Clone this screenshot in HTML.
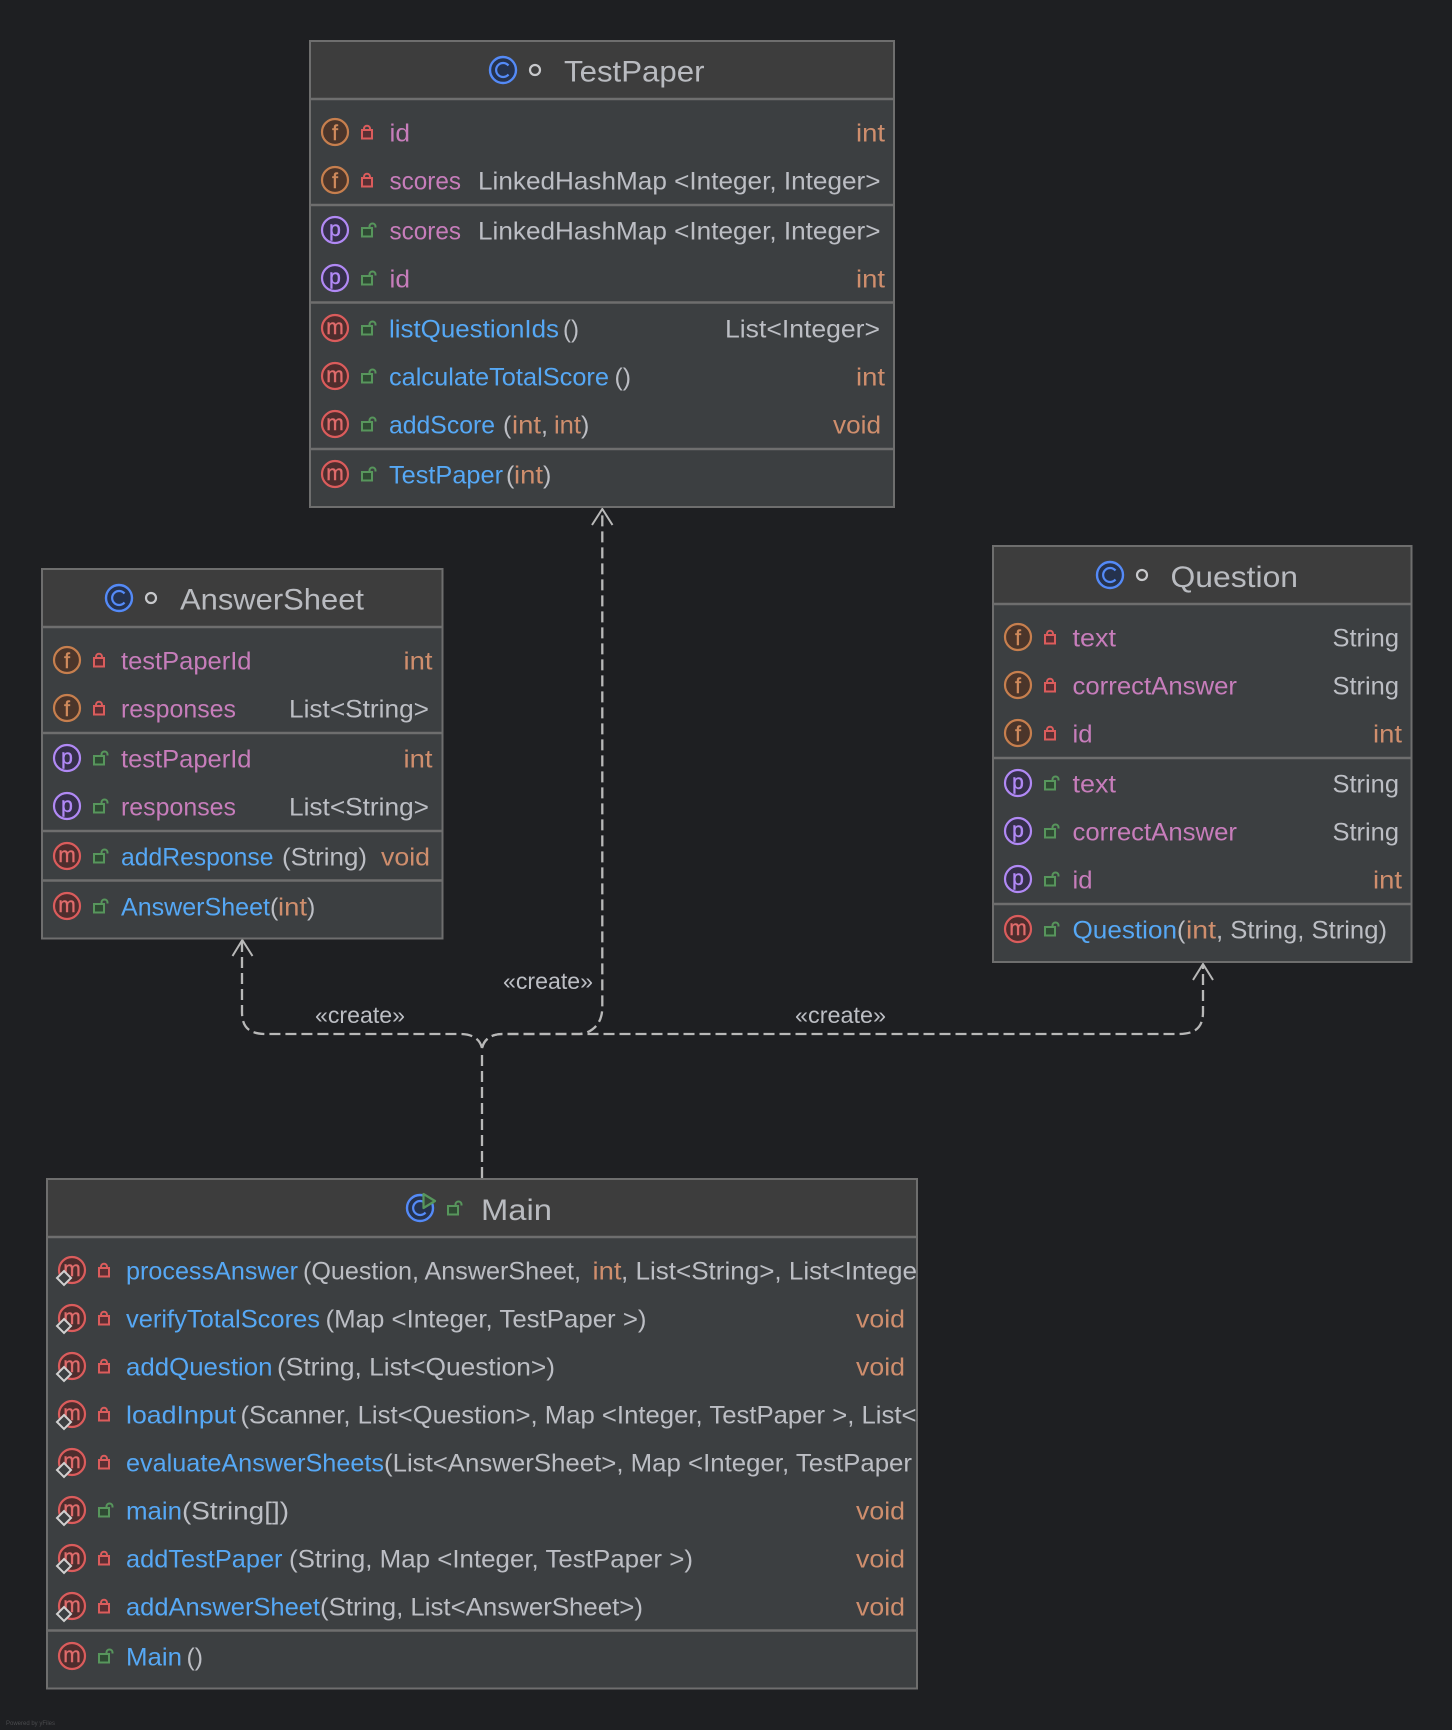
<!DOCTYPE html>
<html><head><meta charset="utf-8"><title>Class diagram</title>
<style>
html,body{margin:0;padding:0;background:#1e1f22}
svg{display:block}
text{font-family:"Liberation Sans",sans-serif;font-size:25px;white-space:pre}
.f{fill:#c77dbb}.m{fill:#56a8f5}.t{fill:#bcbec4}.n{fill:#cf8e6d}
.h{font-size:30px;fill:#b9bbc0}
.l{font-size:21px;text-anchor:middle;stroke-width:.4}
.lf{fill:#d08a5c;stroke:#d08a5c}.lp{fill:#b189f5;stroke:#b189f5}.lm{fill:#e06c6c;stroke:#e06c6c}
.c{font-size:23px;fill:#bcbec4}
.box{fill:#3c3f41;stroke:#6e6e6e;stroke-width:2}
.hd{fill:#3d3d3d}
.sep{stroke:#6e6e6e;stroke-width:2.5}
.dash{fill:none;stroke:#b8b8b8;stroke-width:2.3;stroke-dasharray:11 5}
.arr{fill:none;stroke:#b8b8b8;stroke-width:2}
</style></head><body>
<svg xmlns="http://www.w3.org/2000/svg" width="1452" height="1730" viewBox="0 0 1452 1730">
<defs>
<g id="cf"><circle r="13" fill="#4b352a" stroke="#c77f4e" stroke-width="2.2"/></g>
<g id="cp"><circle r="13" fill="#352f4a" stroke="#b189f5" stroke-width="2.2"/></g>
<g id="cm"><circle r="13" fill="#4e2d2d" stroke="#db5c5c" stroke-width="2.2"/></g>
<g id="cc"><circle r="13" fill="#25324d" stroke="#548af7" stroke-width="2.4"/><path d="M5.5 -4.5A7 7 0 1 0 5.5 4.5" fill="none" stroke="#548af7" stroke-width="2.2"/></g>
<g id="lr"><rect x="1" y="-2" width="10" height="8.5" fill="#5a2f33" stroke="#db5c5c" stroke-width="2"/><path d="M3 -2V-3.3a3 3 0 0 1 6 0V-2" fill="none" stroke="#db5c5c" stroke-width="2"/></g>
<g id="lg"><rect x="1" y="-2" width="10" height="8.5" fill="#2f4a33" stroke="#57965c" stroke-width="2"/><path d="M8.5 -2V-3.5a3 3 0 0 1 6 0V-2.5" fill="none" stroke="#57965c" stroke-width="2"/></g>
<g id="dm"><path d="M0 -7L7 0L0 7L-7 0Z" fill="#3c3f41" stroke="#d0d0d0" stroke-width="2"/></g>
</defs>
<rect width="1452" height="1730" fill="#1e1f22"/>

<!-- connectors -->
<path class="dash" d="M482 1178V1052"/>
<path class="dash" d="M482 1048C480 1040 474 1034 460 1034H266C250 1034 242 1028 242 1012V942"/>
<path class="dash" d="M482 1048C484 1040 490 1034 503 1034H1178C1195 1034 1203 1028 1203 1012V965"/>
<path class="dash" d="M482 1048C484 1040 490 1034 503 1034H580L587 1032.5C597 1028 602 1020 602.3 1008V510"/>
<path class="arr" d="M232.5 956L242.3 940L252.5 956"/>
<path class="arr" d="M592 525L602.3 509L612.5 525"/>
<path class="arr" d="M1193 980L1203 964L1213 980"/>
<text class="c" x="315" y="1023" textLength="90" lengthAdjust="spacingAndGlyphs">«create»</text>
<text class="c" x="503" y="989" textLength="90" lengthAdjust="spacingAndGlyphs">«create»</text>
<text class="c" x="795" y="1023" textLength="91" lengthAdjust="spacingAndGlyphs">«create»</text>

<!-- TestPaper -->
<rect class="box" x="310" y="41" width="584" height="466"/>
<rect class="hd" x="311" y="42" width="582" height="57"/>
<line class="sep" x1="311" y1="99" x2="893" y2="99"/>
<line class="sep" x1="311" y1="205" x2="893" y2="205"/>
<line class="sep" x1="311" y1="302.5" x2="893" y2="302.5"/>
<line class="sep" x1="311" y1="449" x2="893" y2="449"/>
<use href="#cc" x="503" y="70"/>
<circle cx="535" cy="70" r="5" fill="none" stroke="#c8c9cc" stroke-width="2.2"/>
<text class="h" x="564" y="81.5" textLength="140.5" lengthAdjust="spacingAndGlyphs">TestPaper</text>

<use href="#cf" x="335" y="132"/><text class="l lf" x="335" y="140">f</text><use href="#lr" x="361" y="132"/>
<text class="f" x="389.5" y="141.5" textLength="20.5" lengthAdjust="spacingAndGlyphs">id</text>
<text class="n" x="856" y="141.5" textLength="29" lengthAdjust="spacingAndGlyphs">int</text>

<use href="#cf" x="335" y="180"/><text class="l lf" x="335" y="188">f</text><use href="#lr" x="361" y="180"/>
<text class="f" x="389.5" y="189.5" textLength="71.5" lengthAdjust="spacingAndGlyphs">scores</text>
<text class="t" x="478" y="189.5" textLength="402.5" lengthAdjust="spacingAndGlyphs">LinkedHashMap &lt;Integer, Integer&gt;</text>

<use href="#cp" x="335" y="230"/><text class="l lp" x="335" y="236">p</text><use href="#lg" x="361" y="230"/>
<text class="f" x="389.5" y="239.5" textLength="71.5" lengthAdjust="spacingAndGlyphs">scores</text>
<text class="t" x="478" y="239.5" textLength="402.5" lengthAdjust="spacingAndGlyphs">LinkedHashMap &lt;Integer, Integer&gt;</text>

<use href="#cp" x="335" y="278"/><text class="l lp" x="335" y="284">p</text><use href="#lg" x="361" y="278"/>
<text class="f" x="389.5" y="287.5" textLength="20.5" lengthAdjust="spacingAndGlyphs">id</text>
<text class="n" x="856" y="287.5" textLength="29" lengthAdjust="spacingAndGlyphs">int</text>

<use href="#cm" x="335" y="328"/><text class="l lm" x="335" y="334">m</text><use href="#lg" x="361" y="328"/>
<text class="m" x="389" y="337.5" textLength="170" lengthAdjust="spacingAndGlyphs">listQuestionIds</text>
<text class="t" x="563" y="337.5" textLength="16" lengthAdjust="spacingAndGlyphs">()</text>
<text class="t" x="725" y="337.5" textLength="155" lengthAdjust="spacingAndGlyphs">List&lt;Integer&gt;</text>

<use href="#cm" x="335" y="376"/><text class="l lm" x="335" y="382">m</text><use href="#lg" x="361" y="376"/>
<text class="m" x="389" y="385.5" textLength="220" lengthAdjust="spacingAndGlyphs">calculateTotalScore</text>
<text class="t" x="614.5" y="385.5" textLength="16.5" lengthAdjust="spacingAndGlyphs">()</text>
<text class="n" x="856" y="385.5" textLength="29" lengthAdjust="spacingAndGlyphs">int</text>

<use href="#cm" x="335" y="424"/><text class="l lm" x="335" y="430">m</text><use href="#lg" x="361" y="424"/>
<text class="m" x="389" y="433.5" textLength="106" lengthAdjust="spacingAndGlyphs">addScore</text>
<text class="t" x="503" y="433.5">(</text>
<text class="n" x="512" y="433.5" textLength="29" lengthAdjust="spacingAndGlyphs">int</text>
<text class="t" x="541" y="433.5">,</text>
<text class="n" x="554" y="433.5" textLength="27" lengthAdjust="spacingAndGlyphs">int</text>
<text class="t" x="581" y="433.5">)</text>
<text class="n" x="833" y="433.5" textLength="48" lengthAdjust="spacingAndGlyphs">void</text>

<use href="#cm" x="335" y="474"/><text class="l lm" x="335" y="480">m</text><use href="#lg" x="361" y="474"/>
<text class="m" x="389" y="483.5" textLength="114" lengthAdjust="spacingAndGlyphs">TestPaper</text>
<text class="t" x="506" y="483.5">(</text>
<text class="n" x="514" y="483.5" textLength="29" lengthAdjust="spacingAndGlyphs">int</text>
<text class="t" x="543" y="483.5">)</text>

<!-- AnswerSheet -->
<rect class="box" x="42" y="569" width="400.5" height="369.5"/>
<rect class="hd" x="43" y="570" width="398.5" height="57"/>
<line class="sep" x1="43" y1="627" x2="441.5" y2="627"/>
<line class="sep" x1="43" y1="733" x2="441.5" y2="733"/>
<line class="sep" x1="43" y1="831" x2="441.5" y2="831"/>
<line class="sep" x1="43" y1="880.5" x2="441.5" y2="880.5"/>
<use href="#cc" x="119" y="598"/>
<circle cx="151" cy="598" r="5" fill="none" stroke="#c8c9cc" stroke-width="2.2"/>
<text class="h" x="180" y="609.5" textLength="184" lengthAdjust="spacingAndGlyphs">AnswerSheet</text>

<use href="#cf" x="67" y="660"/><text class="l lf" x="67" y="668">f</text><use href="#lr" x="93" y="660"/>
<text class="f" x="121" y="669.5" textLength="130.5" lengthAdjust="spacingAndGlyphs">testPaperId</text>
<text class="n" x="403.5" y="669.5" textLength="29" lengthAdjust="spacingAndGlyphs">int</text>

<use href="#cf" x="67" y="708"/><text class="l lf" x="67" y="716">f</text><use href="#lr" x="93" y="708"/>
<text class="f" x="121" y="717.5" textLength="115" lengthAdjust="spacingAndGlyphs">responses</text>
<text class="t" x="289" y="717.5" textLength="140" lengthAdjust="spacingAndGlyphs">List&lt;String&gt;</text>

<use href="#cp" x="67" y="758"/><text class="l lp" x="67" y="764">p</text><use href="#lg" x="93" y="758"/>
<text class="f" x="121" y="767.5" textLength="130.5" lengthAdjust="spacingAndGlyphs">testPaperId</text>
<text class="n" x="403.5" y="767.5" textLength="29" lengthAdjust="spacingAndGlyphs">int</text>

<use href="#cp" x="67" y="806"/><text class="l lp" x="67" y="812">p</text><use href="#lg" x="93" y="806"/>
<text class="f" x="121" y="815.5" textLength="115" lengthAdjust="spacingAndGlyphs">responses</text>
<text class="t" x="289" y="815.5" textLength="140" lengthAdjust="spacingAndGlyphs">List&lt;String&gt;</text>

<use href="#cm" x="67" y="856"/><text class="l lm" x="67" y="862">m</text><use href="#lg" x="93" y="856"/>
<text class="m" x="121" y="865.5" textLength="152.5" lengthAdjust="spacingAndGlyphs">addResponse</text>
<text class="t" x="282" y="865.5" textLength="85" lengthAdjust="spacingAndGlyphs">(String)</text>
<text class="n" x="381" y="865.5" textLength="49" lengthAdjust="spacingAndGlyphs">void</text>

<use href="#cm" x="67" y="906"/><text class="l lm" x="67" y="912">m</text><use href="#lg" x="93" y="906"/>
<text class="m" x="121" y="915.5" textLength="149" lengthAdjust="spacingAndGlyphs">AnswerSheet</text>
<text class="t" x="270" y="915.5">(</text>
<text class="n" x="278" y="915.5" textLength="29" lengthAdjust="spacingAndGlyphs">int</text>
<text class="t" x="307" y="915.5">)</text>

<!-- Question -->
<rect class="box" x="993" y="546" width="418.5" height="416"/>
<rect class="hd" x="994" y="547" width="416.5" height="57"/>
<line class="sep" x1="994" y1="604" x2="1410.5" y2="604"/>
<line class="sep" x1="994" y1="758" x2="1410.5" y2="758"/>
<line class="sep" x1="994" y1="904" x2="1410.5" y2="904"/>
<use href="#cc" x="1110" y="575"/>
<circle cx="1142" cy="575" r="5" fill="none" stroke="#c8c9cc" stroke-width="2.2"/>
<text class="h" x="1170.5" y="587" textLength="127.5" lengthAdjust="spacingAndGlyphs">Question</text>

<use href="#cf" x="1018" y="637"/><text class="l lf" x="1018" y="645">f</text><use href="#lr" x="1044" y="637"/>
<text class="f" x="1072.5" y="646.5" textLength="43.5" lengthAdjust="spacingAndGlyphs">text</text>
<text class="t" x="1332.5" y="646.5" textLength="66.5" lengthAdjust="spacingAndGlyphs">String</text>

<use href="#cf" x="1018" y="685"/><text class="l lf" x="1018" y="693">f</text><use href="#lr" x="1044" y="685"/>
<text class="f" x="1072.5" y="694.5" textLength="164.5" lengthAdjust="spacingAndGlyphs">correctAnswer</text>
<text class="t" x="1332.5" y="694.5" textLength="66.5" lengthAdjust="spacingAndGlyphs">String</text>

<use href="#cf" x="1018" y="733"/><text class="l lf" x="1018" y="741">f</text><use href="#lr" x="1044" y="733"/>
<text class="f" x="1072.5" y="742.5" textLength="20" lengthAdjust="spacingAndGlyphs">id</text>
<text class="n" x="1373" y="742.5" textLength="29" lengthAdjust="spacingAndGlyphs">int</text>

<use href="#cp" x="1018" y="783"/><text class="l lp" x="1018" y="789">p</text><use href="#lg" x="1044" y="783"/>
<text class="f" x="1072.5" y="792.5" textLength="43.5" lengthAdjust="spacingAndGlyphs">text</text>
<text class="t" x="1332.5" y="792.5" textLength="66.5" lengthAdjust="spacingAndGlyphs">String</text>

<use href="#cp" x="1018" y="831"/><text class="l lp" x="1018" y="837">p</text><use href="#lg" x="1044" y="831"/>
<text class="f" x="1072.5" y="840.5" textLength="164.5" lengthAdjust="spacingAndGlyphs">correctAnswer</text>
<text class="t" x="1332.5" y="840.5" textLength="66.5" lengthAdjust="spacingAndGlyphs">String</text>

<use href="#cp" x="1018" y="879"/><text class="l lp" x="1018" y="885">p</text><use href="#lg" x="1044" y="879"/>
<text class="f" x="1072.5" y="888.5" textLength="20" lengthAdjust="spacingAndGlyphs">id</text>
<text class="n" x="1373" y="888.5" textLength="29" lengthAdjust="spacingAndGlyphs">int</text>

<use href="#cm" x="1018" y="929"/><text class="l lm" x="1018" y="935">m</text><use href="#lg" x="1044" y="929"/>
<text class="m" x="1072.5" y="938.5" textLength="104.5" lengthAdjust="spacingAndGlyphs">Question</text>
<text class="t" x="1177" y="938.5">(</text>
<text class="n" x="1186" y="938.5" textLength="30" lengthAdjust="spacingAndGlyphs">int</text>
<text class="t" x="1216" y="938.5" textLength="171" lengthAdjust="spacingAndGlyphs">, String, String)</text>

<!-- Main -->
<rect class="box" x="47" y="1179" width="870" height="509.5"/>
<rect class="hd" x="48" y="1180" width="868" height="57"/>
<line class="sep" x1="48" y1="1237" x2="916" y2="1237"/>
<line class="sep" x1="48" y1="1630.5" x2="916" y2="1630.5"/>
<use href="#cc" x="420" y="1208"/>
<path d="M423.5 1194L435 1201L423.5 1208Z" fill="#35463a" stroke="#57965c" stroke-width="2.2" stroke-linejoin="round"/>
<use href="#lg" x="447" y="1208"/>
<text class="h" x="481" y="1220" textLength="71" lengthAdjust="spacingAndGlyphs">Main</text>

<use href="#cm" x="72" y="1270"/><text class="l lm" x="72" y="1276">m</text><use href="#dm" x="64" y="1278"/><use href="#lr" x="98" y="1270"/>
<text class="m" x="126" y="1279.5" textLength="172" lengthAdjust="spacingAndGlyphs">processAnswer</text>
<text class="t" x="303" y="1279.5" textLength="278" lengthAdjust="spacingAndGlyphs">(Question, AnswerSheet,</text>
<text class="n" x="592.5" y="1279.5" textLength="29" lengthAdjust="spacingAndGlyphs">int</text>
<text class="t" x="621" y="1279.5" textLength="296" lengthAdjust="spacingAndGlyphs">, List&lt;String&gt;, List&lt;Intege</text>

<use href="#cm" x="72" y="1318"/><text class="l lm" x="72" y="1324">m</text><use href="#dm" x="64" y="1326"/><use href="#lr" x="98" y="1318"/>
<text class="m" x="126" y="1327.5" textLength="194" lengthAdjust="spacingAndGlyphs">verifyTotalScores</text>
<text class="t" x="325.5" y="1327.5" textLength="321" lengthAdjust="spacingAndGlyphs">(Map &lt;Integer, TestPaper &gt;)</text>
<text class="n" x="856" y="1327.5" textLength="49" lengthAdjust="spacingAndGlyphs">void</text>

<use href="#cm" x="72" y="1366"/><text class="l lm" x="72" y="1372">m</text><use href="#dm" x="64" y="1374"/><use href="#lr" x="98" y="1366"/>
<text class="m" x="126" y="1375.5" textLength="146.5" lengthAdjust="spacingAndGlyphs">addQuestion</text>
<text class="t" x="277" y="1375.5" textLength="278" lengthAdjust="spacingAndGlyphs">(String, List&lt;Question&gt;)</text>
<text class="n" x="856" y="1375.5" textLength="49" lengthAdjust="spacingAndGlyphs">void</text>

<use href="#cm" x="72" y="1414"/><text class="l lm" x="72" y="1420">m</text><use href="#dm" x="64" y="1422"/><use href="#lr" x="98" y="1414"/>
<text class="m" x="126" y="1423.5" textLength="110" lengthAdjust="spacingAndGlyphs">loadInput</text>
<text class="t" x="240.5" y="1423.5" textLength="676" lengthAdjust="spacingAndGlyphs">(Scanner, List&lt;Question&gt;, Map &lt;Integer, TestPaper &gt;, List&lt;</text>

<use href="#cm" x="72" y="1462"/><text class="l lm" x="72" y="1468">m</text><use href="#dm" x="64" y="1470"/><use href="#lr" x="98" y="1462"/>
<text class="m" x="126" y="1471.5" textLength="258" lengthAdjust="spacingAndGlyphs">evaluateAnswerSheets</text>
<text class="t" x="384" y="1471.5" textLength="528" lengthAdjust="spacingAndGlyphs">(List&lt;AnswerSheet&gt;, Map &lt;Integer, TestPaper</text>

<use href="#cm" x="72" y="1510"/><text class="l lm" x="72" y="1516">m</text><use href="#dm" x="64" y="1518"/><use href="#lg" x="98" y="1510"/>
<text class="m" x="126" y="1519.5" textLength="56" lengthAdjust="spacingAndGlyphs">main</text>
<text class="t" x="182" y="1519.5" textLength="107" lengthAdjust="spacingAndGlyphs">(String[])</text>
<text class="n" x="856" y="1519.5" textLength="49" lengthAdjust="spacingAndGlyphs">void</text>

<use href="#cm" x="72" y="1558"/><text class="l lm" x="72" y="1564">m</text><use href="#dm" x="64" y="1566"/><use href="#lr" x="98" y="1558"/>
<text class="m" x="126" y="1567.5" textLength="156.5" lengthAdjust="spacingAndGlyphs">addTestPaper</text>
<text class="t" x="289" y="1567.5" textLength="404" lengthAdjust="spacingAndGlyphs">(String, Map &lt;Integer, TestPaper &gt;)</text>
<text class="n" x="856" y="1567.5" textLength="49" lengthAdjust="spacingAndGlyphs">void</text>

<use href="#cm" x="72" y="1606"/><text class="l lm" x="72" y="1612">m</text><use href="#dm" x="64" y="1614"/><use href="#lr" x="98" y="1606"/>
<text class="m" x="126" y="1615.5" textLength="194" lengthAdjust="spacingAndGlyphs">addAnswerSheet</text>
<text class="t" x="320" y="1615.5" textLength="323" lengthAdjust="spacingAndGlyphs">(String, List&lt;AnswerSheet&gt;)</text>
<text class="n" x="856" y="1615.5" textLength="49" lengthAdjust="spacingAndGlyphs">void</text>

<use href="#cm" x="72" y="1656"/><text class="l lm" x="72" y="1662">m</text><use href="#lg" x="98" y="1656"/>
<text class="m" x="126" y="1665.5" textLength="56" lengthAdjust="spacingAndGlyphs">Main</text>
<text class="t" x="186.5" y="1665.5" textLength="16.5" lengthAdjust="spacingAndGlyphs">()</text>

<text x="6" y="1725" style="font-size:6px;fill:#4a4b4e">Powered by yFiles</text>
</svg>
</body></html>
